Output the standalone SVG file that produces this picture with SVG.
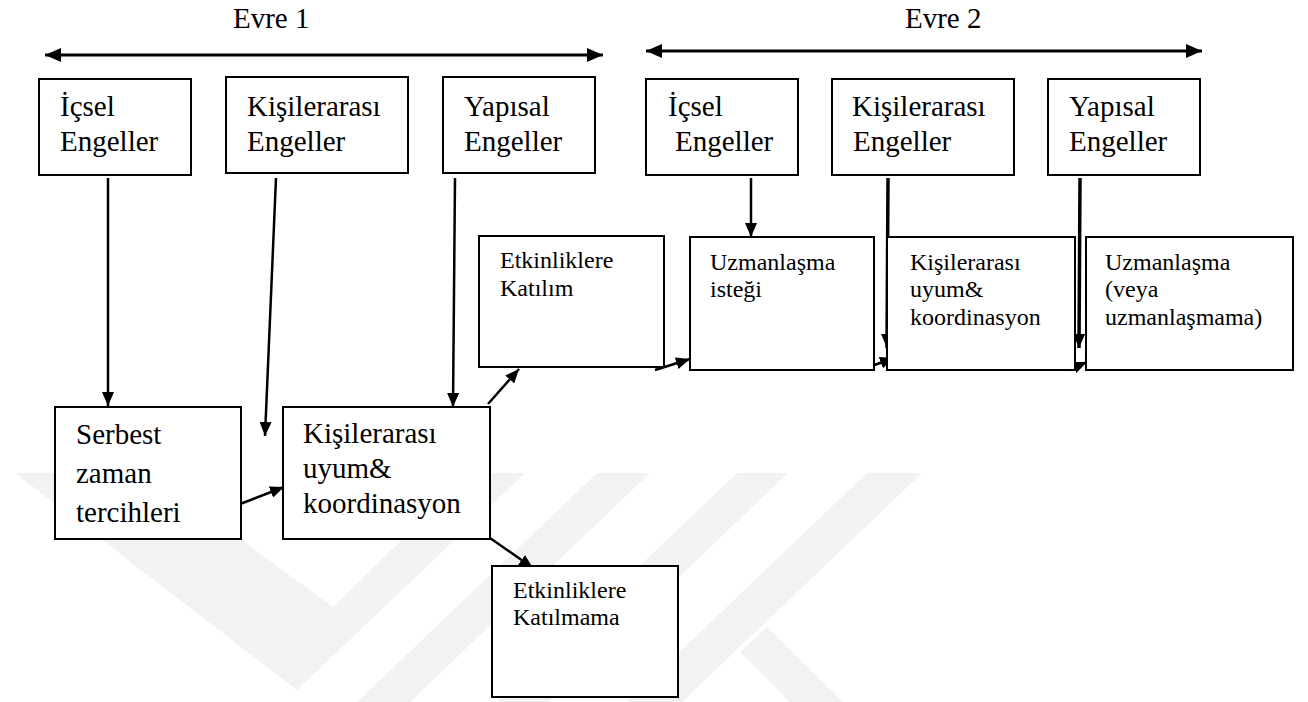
<svg xmlns="http://www.w3.org/2000/svg" width="1308" height="702" viewBox="0 0 1308 702">
<style>
.box{fill:#fff;stroke:#000;stroke-width:2}
.big,.sm,.hdr{font-family:'Liberation Serif','Times New Roman','DejaVu Serif',serif;fill:#000}
.big{font-size:29px}
.sm{font-size:24px}
.hdr{font-size:29px}
.ln{stroke:#000;stroke-width:2.5;fill:none;marker-end:url(#ah)}
.dbl{stroke:#000;stroke-width:3;fill:none;marker-start:url(#bh);marker-end:url(#bh)}
.wm{fill:#f2f2f2}
</style>
<defs>
<marker id="ah" viewBox="0 0 14 12" refX="14" refY="6" markerWidth="14" markerHeight="12" markerUnits="userSpaceOnUse" orient="auto">
<path d="M0,0 L14,6 L0,12 z" fill="#000"/>
</marker>
<marker id="bh" viewBox="0 0 16 14" refX="16" refY="7" markerWidth="16" markerHeight="14" markerUnits="userSpaceOnUse" orient="auto-start-reverse">
<path d="M0,0 L16,7 L0,14 z" fill="#000"/>
</marker>
</defs>
<rect width="1308" height="702" fill="#fff"/>
<g id="watermark">
<polygon class="wm" points="15,473 150,473 333,607 470,473 525,473 297,690"/>
<polygon class="wm" points="597,473 650,473 410,702 357,702"/>
<polygon class="wm" points="737,473 788,473 548,702 497,702"/>
<polygon class="wm" points="867,473 922,473 682,702 627,702"/>
<polygon class="wm" points="767,627 843,702 790,702 740,652"/>
</g>
<g id="phases">
<text class="hdr" x="233" y="28">Evre 1</text>
<text class="hdr" x="905" y="28">Evre 2</text>
</g>
<g id="connectors">
<line class="dbl" x1="45" y1="55" x2="603" y2="55"/>
<line class="dbl" x1="646" y1="51" x2="1202" y2="51"/>
<line class="ln" x1="108" y1="178" x2="108" y2="406"/>
<line class="ln" x1="276" y1="178" x2="265" y2="436"/>
<line class="ln" x1="455" y1="178" x2="453" y2="407"/>
<line class="ln" x1="235" y1="506" x2="284" y2="487"/>
<line class="ln" x1="488" y1="404" x2="519" y2="369"/>
<line class="ln" x1="490" y1="538" x2="533" y2="568"/>
<line class="ln" x1="655" y1="370" x2="690" y2="359"/>
<line class="ln" x1="751" y1="178" x2="751" y2="237"/>
<line class="ln" x1="888" y1="178" x2="887" y2="348" style="stroke-width:3.5"/>
<line class="ln" x1="866" y1="368" x2="894" y2="358"/>
<line class="ln" x1="1080" y1="178" x2="1079" y2="348" style="stroke-width:3.5"/>
<line class="ln" x1="1068" y1="370" x2="1087" y2="362"/>
</g>
<g id="n-icsel1">
<rect class="box" x="39" y="79" width="152" height="96"/>
<text class="big" x="60" y="116">İçsel</text>
<text class="big" x="60" y="151">Engeller</text>
</g>
<g id="n-kisiler1">
<rect class="box" x="226" y="77" width="182" height="96"/>
<text class="big" x="247" y="116">Kişilerarası</text>
<text class="big" x="247" y="151">Engeller</text>
</g>
<g id="n-yapisal1">
<rect class="box" x="443" y="77" width="152" height="96"/>
<text class="big" x="464" y="116">Yapısal</text>
<text class="big" x="464" y="151">Engeller</text>
</g>
<g id="n-icsel2">
<rect class="box" x="646" y="79" width="152" height="96"/>
<text class="big" x="668" y="116">İçsel</text>
<text class="big" x="675" y="151">Engeller</text>
</g>
<g id="n-kisiler2">
<rect class="box" x="832" y="79" width="182" height="96"/>
<text class="big" x="852" y="116">Kişilerarası</text>
<text class="big" x="853" y="151">Engeller</text>
</g>
<g id="n-yapisal2">
<rect class="box" x="1048" y="79" width="152" height="96"/>
<text class="big" x="1069" y="116">Yapısal</text>
<text class="big" x="1069" y="151">Engeller</text>
</g>
<g id="n-serbest">
<rect class="box" x="55" y="407" width="186" height="132"/>
<text class="big" x="76" y="444">Serbest</text>
<text class="big" x="76" y="483">zaman</text>
<text class="big" x="76" y="522">tercihleri</text>
</g>
<g id="n-uyum1">
<rect class="box" x="283" y="407" width="207" height="132"/>
<text class="big" x="303" y="443">Kişilerarası</text>
<text class="big" x="303" y="478">uyum&amp;</text>
<text class="big" x="303" y="513">koordinasyon</text>
</g>
<g id="n-katilim">
<rect class="box" x="479" y="236" width="185" height="131"/>
<text class="sm" x="500" y="268">Etkinliklere</text>
<text class="sm" x="500" y="296">Katılım</text>
</g>
<g id="n-katilmama">
<rect class="box" x="492" y="566" width="186" height="131"/>
<text class="sm" x="513" y="598">Etkinliklere</text>
<text class="sm" x="513" y="625">Katılmama</text>
</g>
<g id="n-istek">
<rect class="box" x="690" y="237" width="184" height="133"/>
<text class="sm" x="710" y="270">Uzmanlaşma</text>
<text class="sm" x="710" y="297">isteği</text>
</g>
<g id="n-uyum2">
<rect class="box" x="887" y="237" width="188" height="133"/>
<text class="sm" x="910" y="270">Kişilerarası</text>
<text class="sm" x="910" y="297">uyum&amp;</text>
<text class="sm" x="910" y="325">koordinasyon</text>
</g>
<g id="n-uzman">
<rect class="box" x="1086" y="237" width="207" height="133"/>
<text class="sm" x="1105" y="270">Uzmanlaşma</text>
<text class="sm" x="1105" y="297">(veya</text>
<text class="sm" x="1105" y="325">uzmanlaşmama)</text>
</g>
</svg>
